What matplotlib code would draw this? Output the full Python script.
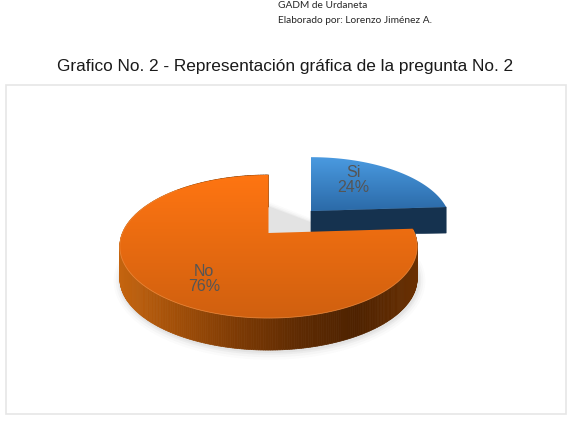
import numpy as np
import matplotlib
matplotlib.use("Agg")
import matplotlib.pyplot as plt
from matplotlib.collections import PolyCollection
from matplotlib.colors import LinearSegmentedColormap
from matplotlib.patches import Polygon, Rectangle

categories = ["Si", "No"]
shares = [24, 76]
title = "Grafico No. 2 - Representación gráfica de la pregunta No. 2"
source_lines = ["GADM de Urdaneta", "Elaborado por: Lorenzo Jiménez A."]

W, H = 572, 425
fig = plt.figure(figsize=(W / 100, H / 100), dpi=100, facecolor="white")
ax = fig.add_axes([0, 0, 1, 1])
ax.set_xlim(0, W)
ax.set_ylim(H, 0)
ax.axis("off")

TILT = 0.189


def rim(theta, apex, rx, ry):
    """Project clockwise-from-north angles onto a tilted disc, in pixels."""
    u, v = np.sin(theta), np.cos(theta)
    d = 1 + TILT * v
    return apex[0] + rx * u / d, apex[1] - ry * v / d


def wedge_outline(t0, t1, apex, rx, ry):
    t = np.linspace(t0, t1, 240)
    x, y = rim(t, apex, rx, ry)
    return np.column_stack([np.r_[apex[0], x], np.r_[apex[1], y]])


def gradient_face(points, top_color, bottom_color, zorder):
    """Fill a polygon with a vertical colour ramp."""
    ymin, ymax = points[:, 1].min(), points[:, 1].max()
    xmin, xmax = points[:, 0].min(), points[:, 0].max()
    cmap = LinearSegmentedColormap.from_list("face", [top_color, bottom_color])
    img = ax.imshow(np.linspace(0, 1, 256)[:, None], cmap=cmap, aspect="auto",
                    extent=(xmin, xmax, ymax, ymin), zorder=zorder, interpolation="bilinear")
    clip = Polygon(points, closed=True, transform=ax.transData, fc="none", ec="none")
    ax.add_patch(clip)
    img.set_clip_path(clip)
    ax.set_xlim(0, W)
    ax.set_ylim(H, 0)


def side_wall(t0, t1, apex, rx, ry, depth, ramp, zorder):
    """Extrude the rim downward as thin quads shaded along the x direction."""
    t = np.linspace(t0, t1, 360)
    x, y = rim(t, apex, rx, ry)
    span = np.ptp(x) or 1
    frac = (x - x.min()) / span
    quads, colors = [], []
    for i in range(len(t) - 1):
        quads.append([(x[i], y[i]), (x[i + 1], y[i + 1]),
                      (x[i + 1], y[i + 1] + depth), (x[i], y[i] + depth)])
        colors.append(ramp(frac[i]))
    ax.add_collection(PolyCollection(quads, facecolors=colors, edgecolors=colors,
                                     linewidths=0.5, zorder=zorder))


# Chart frame
ax.add_patch(Rectangle((6, 85), 560, 329, fc="white", ec="#e6e6e6", lw=1.2, zorder=0))

# Header text and title
ax.text(278, 5, source_lines[0], family="Lato", fontsize=7.3, color="#262626", va="center", ha="left")
ax.text(278, 20, source_lines[1], family="Lato", fontsize=7.3, color="#262626", va="center", ha="left")
ax.text(285.5, 66, title, family="Liberation Sans", fontsize=12.4, color="#1a1a1a", va="center", ha="center")

fractions = np.array(shares) / sum(shares)
split = fractions[0] * 2 * np.pi
full = 2 * np.pi

si_apex, si_rx, si_ry, si_depth = (311, 211), 137, 64, 24
no_apex, no_rx, no_ry, no_depth = (268.5, 233), 146, 69, 32

# Soft shadow beneath the large slice
for grow, alpha in zip([7, 5, 3, 1.5], [0.025, 0.035, 0.05, 0.06]):
    t = np.linspace(split, full, 240)
    x, y = rim(t, no_apex, no_rx + grow, no_ry + grow)
    ax.fill(x + 1, y + no_depth + 1, color="#555555", alpha=alpha, lw=0, zorder=1)

# Si slice: dark cut wall, rim, then the top face
x_tip, y_tip = rim(np.array([split]), si_apex, si_rx, si_ry)
ax.add_patch(Polygon([si_apex, (x_tip[0], y_tip[0]), (x_tip[0], y_tip[0] + si_depth + 2),
                      (si_apex[0], si_apex[1] + si_depth)],
                     closed=True, fc="#15324f", ec="#15324f", lw=0.5, zorder=2))
si_outline = wedge_outline(0, split, si_apex, si_rx, si_ry)
gradient_face(si_outline, "#4a9ae0", "#2b6aa8", 3)

# No slice: curved wall, then the top face and its lit front edge
no_ramp = LinearSegmentedColormap.from_list(
    "no_wall", ["#c4640f", "#a04e08", "#7d3a04", "#5f2b02", "#4e2200", "#6a3002"])
side_wall(split, full, no_apex, no_rx, no_ry, no_depth, no_ramp, 4)
no_outline = wedge_outline(split, full, no_apex, no_rx, no_ry)
gradient_face(no_outline, "#ff7512", "#d0600f", 5)
t_edge = np.linspace(split + 0.02, 1.75 * np.pi, 200)
ax.plot(*rim(t_edge, no_apex, no_rx, no_ry), color="#f08a3c", lw=0.6, alpha=0.8, zorder=6)

# Slice labels
label_positions = [(353, 180), (204, 279)]
for name, share, (lx, ly) in zip(categories, shares, label_positions):
    ax.text(lx, ly, f"{name}\n{share}%", family="Liberation Sans", fontsize=11.5,
            color="#555555", ha="center", va="center", linespacing=1.05, zorder=7)

fig.savefig("out.png", dpi=100, facecolor="white")
